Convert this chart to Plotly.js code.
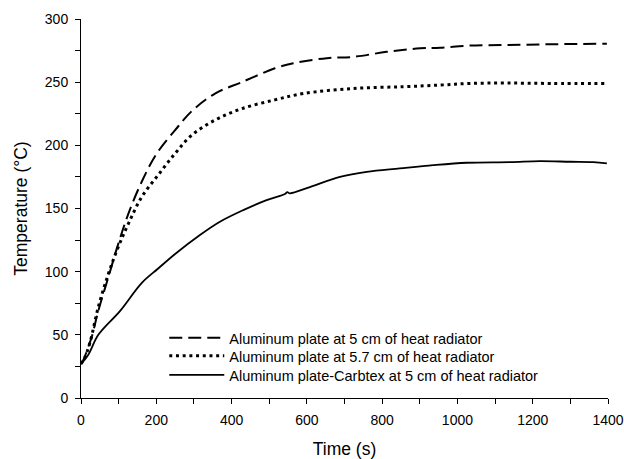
<!DOCTYPE html>
<html>
<head>
<meta charset="utf-8">
<script src="https://cdn.plot.ly/plotly-3.0.1.min.js"></script>
<style>html,body{margin:0;padding:0;background:#fff;}#chart{width:624px;height:459px;}</style>
</head>
<body>
<div id="chart"></div>
<script>
// Series 1: Aluminum plate at 5 cm (dashed)
const tA = [0, 6, 28, 46, 73, 99, 126, 161, 200, 250, 294, 356, 427, 515, 564, 653, 723, 812, 901, 954, 1033, 1131, 1250, 1397];
const yA = [27, 30, 48, 69, 96, 122, 146, 171, 193, 212, 227, 241, 250, 261, 265, 269, 270, 274, 276.8, 277.3, 279, 279.4, 280, 280.5];
// Series 2: Aluminum plate at 5.7 cm (dotted)
const tB = [0, 10, 24, 46, 73, 99, 126, 161, 205, 250, 294, 356, 427, 515, 591, 723, 856, 954, 1033, 1131, 1250, 1395];
const yB = [27, 32, 44, 72, 98.5, 119.6, 138, 159, 176.5, 193.6, 208, 220, 229, 236, 241, 245, 246.4, 247.7, 249, 249.3, 249, 249];
// Series 3: Aluminum plate-Carbtex at 5 cm (solid)
const tC = [0, 19, 46, 104, 161, 205, 250, 316, 369, 431, 493, 542, 548, 555, 608, 688, 759, 847, 936, 1025, 1140, 1219, 1300, 1361, 1397];
const yC = [27, 34, 50, 69, 91, 102.5, 114, 129, 139.5, 148.7, 156.6, 161.5, 163, 162, 167, 175, 179, 181.7, 184.3, 186.2, 186.7, 187.5, 187, 186.7, 185.7];

const names = [
  "Aluminum plate at 5 cm of heat radiator",
  "Aluminum plate at 5.7 cm of heat radiator",
  "Aluminum plate-Carbtex at 5 cm of heat radiator"
];

const traces = [
  {x: tA, y: yA, name: names[0], legend: "legend", mode: "lines", line: {color: "#000", width: 2, dash: "13px,6px", shape: "spline"}},
  {x: tB, y: yB, name: names[1], legend: "legend2", mode: "lines", line: {color: "#000", width: 3, dash: "3px,3.7px", shape: "spline"}},
  {x: tC, y: yC, name: names[2], legend: "legend3", mode: "lines", line: {color: "#000", width: 1.8, shape: "spline"}}
];

const font = "Liberation Sans, Arial, sans-serif";
function leg(y) {
  return {x: 0.158, y: y, xanchor: "left", yanchor: "top", bgcolor: "rgba(0,0,0,0)",
          font: {size: 14.5, family: font}, itemwidth: 55};
}
const layout = {
  width: 624, height: 459,
  margin: {l: 81, r: 16, t: 19, b: 61},
  paper_bgcolor: "#fff", plot_bgcolor: "#fff",
  font: {family: font, color: "#000", size: 14},
  showlegend: true,
  legend: leg(0.2007),
  legend2: leg(0.1532),
  legend3: leg(0.1030),
  xaxis: {
    range: [0, 1400], dtick: 200, tick0: 0,
    showgrid: false, zeroline: false, showline: true, linecolor: "#000", linewidth: 1,
    ticks: "outside", ticklen: 5, tickcolor: "#000", tickwidth: 1,
    minor: {ticks: "outside", dtick: 100, ticklen: 5, tickcolor: "#000", showgrid: false},
    tickfont: {size: 14}, ticklabelstandoff: 4,
    title: {text: "Time (s)", font: {size: 17.5}, standoff: 19}
  },
  yaxis: {
    range: [0, 300], dtick: 50, tick0: 0,
    showgrid: false, zeroline: false, showline: true, linecolor: "#000", linewidth: 1,
    ticks: "outside", ticklen: 5, tickcolor: "#000", tickwidth: 1,
    minor: {ticks: "outside", dtick: 25, ticklen: 5, tickcolor: "#000", showgrid: false},
    tickfont: {size: 14}, ticklabelstandoff: 4,
    title: {text: "Temperature (°C)", font: {size: 17.5}, standoff: 12}
  }
};

Plotly.newPlot("chart", traces, layout, {staticPlot: true, displayModeBar: false});
</script>
</body>
</html>
